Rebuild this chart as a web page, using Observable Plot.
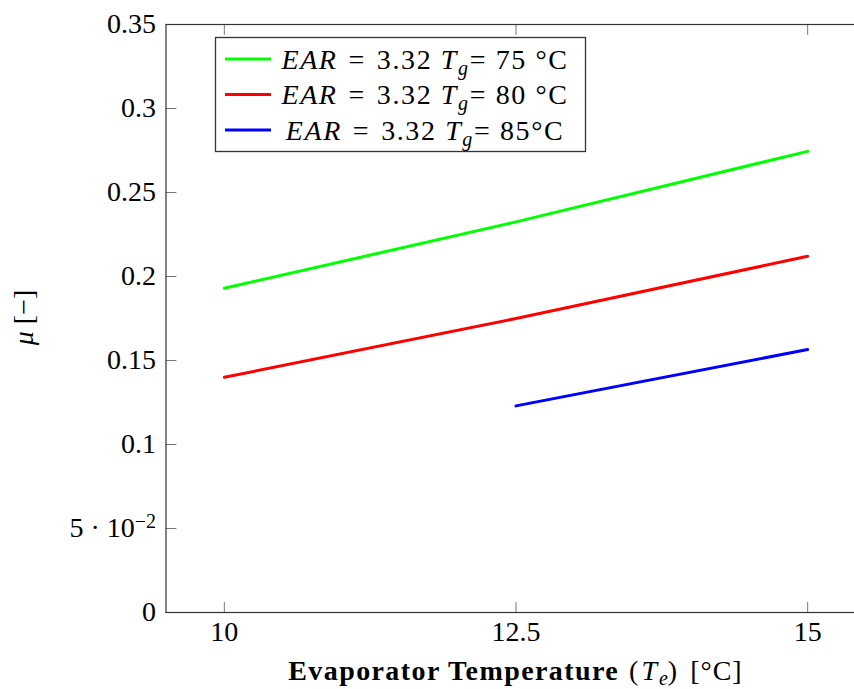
<!DOCTYPE html>
<html>
<head>
<meta charset="utf-8">
<script src="https://cdn.jsdelivr.net/npm/d3@7"></script>
<script src="https://cdn.jsdelivr.net/npm/@observablehq/plot@0.6"></script>
<style>
  html, body { margin: 0; padding: 0; background: #fff; overflow: hidden; }
  #chart { position: relative; width: 854px; height: 689px; overflow: hidden; }
</style>
</head>
<body>
<div id="chart"></div>
<script>
// ---- data ----
const temps = [10, 12.5, 15];
const mu75 = [0.193, 0.2325, 0.2745];
const mu80 = [0.140, 0.175, 0.212];
const mu85 = [null, 0.123, 0.1565];
const seriesNames = ["Tg75", "Tg80", "Tg85"];
const seriesColors = ["#00ff00", "#ff0000", "#0000ff"];
const legendEAR = ["3.32", "3.32", "3.32"];
const legendTg = ["= 75 °C", "= 80 °C", "= 85°C"];
const xTicks = [10, 12.5, 15];
const yTicks = [0, 0.05, 0.1, 0.15, 0.2, 0.25, 0.3, 0.35];
const yTickLabels = ["0", "5·10^-2", "0.1", "0.15", "0.2", "0.25", "0.3", "0.35"];

const allSeries = [mu75, mu80, mu85];
const rows = [];
allSeries.forEach((vals, s) => {
  vals.forEach((v, i) => {
    if (v != null) rows.push({series: seriesNames[s], t: temps[i], mu: v});
  });
});

const FONT = "'Liberation Serif', 'DejaVu Serif', serif";
const tickShape = {draw(ctx, l) { ctx.moveTo(0, 0); ctx.lineTo(0, -l); }};
const tickStyle = {stroke: "#777", strokeWidth: 1, length: 10, anchor: "start", shape: tickShape};

const chart = Plot.plot({
  width: 866,
  height: 689,
  marginLeft: 165.5,
  marginRight: 0.5,
  marginTop: 24,
  marginBottom: 77,
  style: {fontFamily: FONT, fontSize: "28px", maxWidth: "none", overflow: "visible", background: "white"},
  x: {domain: [9.5, 15.5]},
  y: {domain: [0, 0.35]},
  color: {domain: seriesNames, range: seriesColors},
  marks: [
    Plot.vector(yTicks, {y: d => d, frameAnchor: "left", rotate: 90, ...tickStyle}),
    Plot.vector(yTicks, {y: d => d, frameAnchor: "right", rotate: 270, ...tickStyle}),
    Plot.vector(xTicks, {x: d => d, frameAnchor: "bottom", rotate: 0, ...tickStyle}),
    Plot.vector(xTicks, {x: d => d, frameAnchor: "top", rotate: 180, ...tickStyle}),
    Plot.line(rows, {x: "t", y: "mu", z: "series", stroke: "series", strokeWidth: 3}),
    Plot.frame({stroke: "#333", strokeWidth: 1.2}),
    Plot.axisX({ticks: xTicks, tickSize: 0, tickPadding: 9, label: null, fontSize: 28,
      tickFormat: d => String(d)}),
    Plot.axisY({ticks: yTicks, tickSize: 0, tickPadding: 10, label: null, fontSize: 28,
      tickFormat: d => yTickLabels[yTicks.indexOf(d)]})
  ]
});

document.getElementById("chart").appendChild(chart);
const svg = d3.select(chart);
svg.selectAll("text").style("font-family", FONT);

// superscript for 5·10^-2
svg.selectAll("text").each(function() {
  const t = d3.select(this);
  if (t.text() === "5·10^-2") {
    t.text(null);
    t.append("tspan").text("5 · 10");
    t.append("tspan").attr("dy", "-0.45em").style("font-size", "20px").text("−2");
  }
});

// x-axis label
const xl = svg.append("text")
  .attr("x", 515.5).attr("y", 680)
  .attr("text-anchor", "middle")
  .style("font-family", FONT).style("font-size", "28px").attr("fill", "black");
xl.append("tspan").style("font-weight", "bold").style("letter-spacing", "1.4px").text("Evaporator Temperature");
xl.append("tspan").style("letter-spacing", "3px").text(" (");
xl.append("tspan").style("font-style", "italic").style("letter-spacing", "2px").text("T");
xl.append("tspan").style("font-style", "italic").style("font-size", "20px").attr("dy", 5).text("e");
xl.append("tspan").attr("dy", -5).style("letter-spacing", "3px").text(") ");
xl.append("tspan").style("letter-spacing", "1px").text("[°C]");

// y-axis label
const yl = svg.append("text")
  .attr("transform", "translate(33,317.5) rotate(-90)")
  .attr("text-anchor", "middle")
  .style("font-family", FONT).style("font-size", "28px").attr("fill", "black");
yl.append("tspan").style("font-style", "italic").text("μ");
yl.append("tspan").text(" [−]");

// legend
const lg = svg.append("g");
lg.append("rect").attr("x", 215.5).attr("y", 37.5).attr("width", 370).attr("height", 114)
  .attr("fill", "white").attr("stroke", "#333").attr("stroke-width", 1.3);
seriesNames.forEach((name, i) => {
  const cy = 59 + 35.5 * i;
  lg.append("line").attr("x1", 225).attr("x2", 271).attr("y1", cy).attr("y2", cy)
    .attr("stroke", seriesColors[i]).attr("stroke-width", 3);
  const t = lg.append("text").attr("x", 425).attr("y", cy + 9.5)
    .attr("text-anchor", "middle")
    .style("font-family", FONT).style("font-size", "28px").style("letter-spacing", "1.6px").attr("fill", "black");
  t.append("tspan").style("font-style", "italic").text("EAR");
  t.append("tspan").text("\u2004=\u2004" + legendEAR[i] + " ");
  t.append("tspan").style("font-style", "italic").text("T");
  t.append("tspan").style("font-style", "italic").style("font-size", "20px").attr("dy", 6).text("g");
  t.append("tspan").attr("dy", -6).text(legendTg[i]);
});
</script>
</body>
</html>
